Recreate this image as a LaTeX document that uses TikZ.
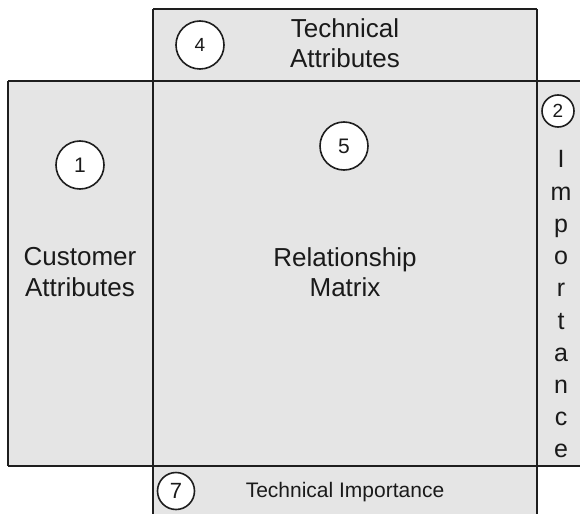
\documentclass[tikz,border=0pt]{standalone}
\usepackage{fontspec}
\setmainfont{Liberation Sans}
\begin{document}
\begin{tikzpicture}[x=1bp,y=-1bp,
  rule/.style={draw=linegray,line width=1.8bp},
  label/.style={inner sep=0pt,align=center,text=inkgray,font=\fontsize{26bp}{30.5bp}\selectfont},
  badge/.style={circle,draw=linegray,fill=white,line width=1.6bp,inner sep=0pt,text=inkgray,minimum size=#1},
  letter/.style={inner sep=0pt,anchor=base,text=inkgray,font=\fontsize{25bp}{30bp}\selectfont}]
\definecolor{panelgray}{HTML}{E5E5E5}
\definecolor{linegray}{HTML}{1E1E1E}
\definecolor{inkgray}{HTML}{1A1A1A}
\useasboundingbox (0,0) rectangle (580,514);

% grey panels of the house
\fill[panelgray] (153,9) rectangle (537,81);
\fill[panelgray] (8,81) rectangle (580,466);
\fill[panelgray] (153,466) rectangle (537,514);

% grid lines
\coordinate (tl) at (153,9);
\coordinate (tr) at (537,9);
\coordinate (ml) at (8,81);
\coordinate (mr) at (580,81);
\coordinate (bl) at (8,466);
\coordinate (br) at (580,466);
\coordinate (vlb) at (153,514);
\coordinate (vrb) at (537,514);
\draw[rule] (tl) -- (tr);
\draw[rule] (ml) -- (mr);
\draw[rule] (bl) -- (br);
\draw[rule] (ml) -- (bl);
\draw[rule] (tl) -- (vlb);
\draw[rule] (tr) -- (vrb);

% section titles
\node[label] (techattr) at (345,43) {Technical\\Attributes};
\node[label] (custattr) at (80,272) {Customer\\Attributes};
\node[label] (relmat) at (345,272) {Relationship\\Matrix};
\node[label,anchor=base,font=\fontsize{21bp}{25bp}\selectfont] (techimp) at (345,497) {Technical Importance};

% vertical "Importance" column
\foreach \ch [count=\i from 0] in {I,m,p,o,r,t,a,n,c,e}
  \node[letter] (imp\i) at (561,168+32.2*\i) {\ch};

% numbered badges
\node[badge=48bp,font=\fontsize{19bp}{22bp}\selectfont] (n4) at (200,45) {4};
\node[badge=48bp,font=\fontsize{21bp}{24bp}\selectfont] (n5) at (344,146) {5};
\node[badge=48bp,font=\fontsize{21bp}{24bp}\selectfont] (n1) at (80,165) {1};
\node[badge=32bp,font=\fontsize{19bp}{22bp}\selectfont] (n2) at (558,111) {2};
\node[badge=37bp,font=\fontsize{22bp}{25bp}\selectfont] (n7) at (176,491) {7};
\end{tikzpicture}
\end{document}
